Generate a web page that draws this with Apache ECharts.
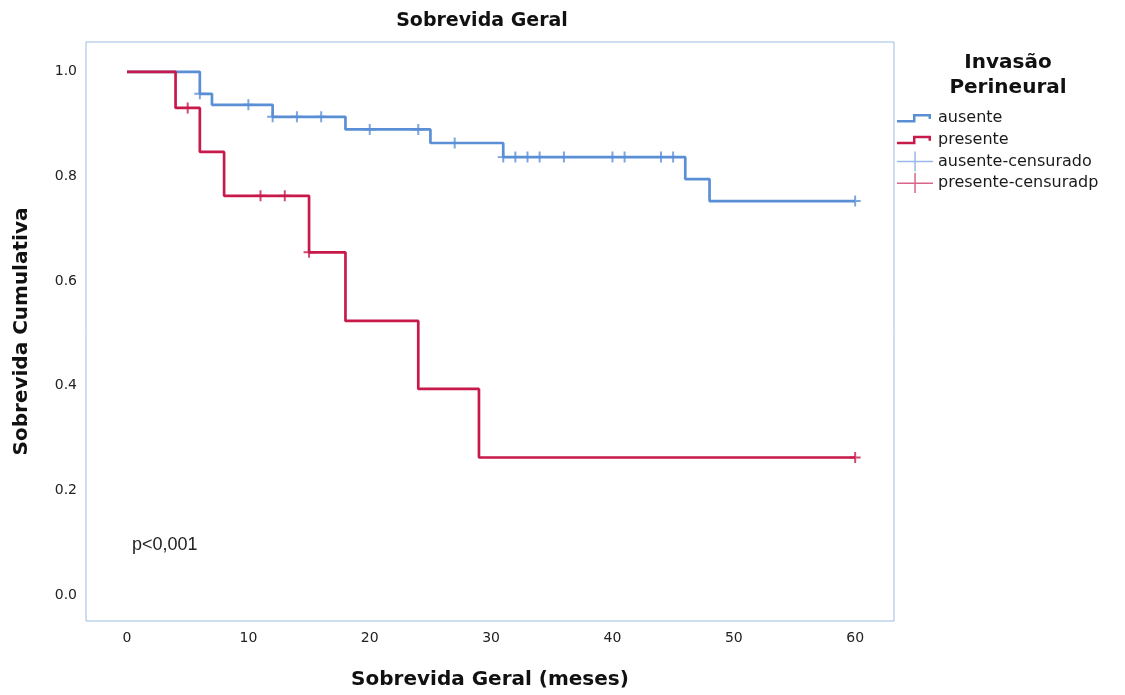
<!DOCTYPE html>
<html><head><meta charset="utf-8">
<script src="https://cdn.jsdelivr.net/npm/echarts@6/dist/echarts.min.js"></script>
<style>html,body{margin:0;padding:0;background:#fff}#c{width:1125px;height:695px}</style>
</head><body><div id="c"></div>
<script>
// ---- data ----
const xTicks = [0, 10, 20, 30, 40, 50, 60];
const yTicks = [0, 0.2, 0.4, 0.6, 0.8, 1.0];
const seriesNames = ['ausente', 'presente', 'ausente-censurado', 'presente-censuradp'];
const ausenteTimes = [0, 6, 7, 12, 18, 25, 31, 46, 48, 60];
const ausenteSurv  = [1, 0.958, 0.937, 0.914, 0.890, 0.864, 0.837, 0.795, 0.753, 0.753];
const ausenteCensorTimes = [6, 10, 12, 14, 16, 20, 24, 27, 31, 32, 33, 34, 36, 40, 41, 44, 45, 60];
const presenteTimes = [0, 4, 6, 8, 15, 18, 24, 29, 60];
const presenteSurv  = [1, 0.931, 0.847, 0.763, 0.655, 0.524, 0.394, 0.263, 0.263];
const presenteCensorTimes = [5, 11, 13, 15, 60];

const BLUE = '#5a8fd6', RED = '#c8194b';
function survAt(times, surv, t) {
  let v = surv[0];
  for (let i = 0; i < times.length; i++) if (times[i] <= t) v = surv[i];
  return v;
}
const zip = (a, b) => a.map((t, i) => [t, b[i]]);
const plus = 'path://M0,4.1 L10,4.1 L10,5.9 L0,5.9 Z M4.1,0 L5.9,0 L5.9,10 L4.1,10 Z';
const stepIcon = 'path://M0,0 L0.001,0 Z M36,20 L35.999,20 Z M0,12 L16,12 L16,6 L34,6 L34,11 L31.5,11 L31.5,8.5 L18.5,8.5 L18.5,14.5 L0,14.5 Z';
const crossIcon = 'path://M0,9.3 L36,9.3 L36,10.8 L0,10.8 Z M17.3,0 L18.8,0 L18.8,20 L17.3,20 Z';

const chart = echarts.init(document.getElementById('c'));
chart.setOption({
  animation: false,
  backgroundColor: '#fff',
  grid: { left: 86, right: 231, top: 42, bottom: 72, show: true, borderColor: '#9dbbe0', borderWidth: 1 },
  xAxis: {
    type: 'value', min: -3.38, max: 63.2,
    axisLine: { show: false }, axisTick: { show: false }, splitLine: { show: false },
    axisLabel: { customValues: xTicks, fontSize: 14, color: '#222', margin: 10, fontFamily: 'DejaVu Sans' },
    name: 'Sobrevida Geral (meses)', nameLocation: 'middle', nameGap: 49,
    nameTextStyle: { fontSize: 20, fontWeight: 'bold', color: '#111', fontFamily: 'DejaVu Sans' }
  },
  yAxis: {
    type: 'value', min: -0.0495, max: 1.057,
    axisLine: { show: false }, axisTick: { show: false }, splitLine: { show: false },
    axisLabel: { customValues: yTicks, fontSize: 14, color: '#222', margin: 9, fontFamily: 'DejaVu Sans',
      formatter: v => v.toFixed(1) },
    name: 'Sobrevida Cumulativa', nameLocation: 'middle', nameGap: 54,
    nameTextStyle: { fontSize: 20, fontWeight: 'bold', color: '#111', fontFamily: 'DejaVu Sans' }
  },
  legend: {
    orient: 'vertical', left: 897, top: 108, itemWidth: 36, itemHeight: 20, itemGap: 1.7,
    padding: 0,
    textStyle: { fontSize: 16, color: '#1a1a1a', fontFamily: 'DejaVu Sans', padding: [0, 0, 0, 0] },
    data: [
      { name: seriesNames[0], icon: stepIcon, itemStyle: { color: BLUE, borderWidth: 0 } },
      { name: seriesNames[1], icon: stepIcon, itemStyle: { color: RED, borderWidth: 0 } },
      { name: seriesNames[2], icon: crossIcon, itemStyle: { color: '#7ea8e2', borderWidth: 0 } },
      { name: seriesNames[3], icon: crossIcon, itemStyle: { color: '#d0406a', borderWidth: 0 } }
    ]
  },
  graphic: [
    { type: 'text', x: 482, y: 21, style: { text: 'Sobrevida Geral', align: 'center', verticalAlign: 'middle',
      font: 'bold 19px "DejaVu Sans"', fill: '#111' } },
    { type: 'text', x: 1008, y: 50, style: { text: 'Invasão\nPerineural', align: 'center', verticalAlign: 'top',
      font: 'bold 20px "DejaVu Sans"', lineHeight: 25, fill: '#111' } },
    { type: 'text', x: 132, y: 545, style: { text: 'p<0,001', align: 'left', verticalAlign: 'middle',
      font: '18px "Liberation Sans"', fill: '#222' } }
  ],
  series: [
    { name: seriesNames[0], type: 'line', step: 'end', symbol: 'none', z: 2,
      lineStyle: { color: BLUE, width: 2.7 }, itemStyle: { color: BLUE },
      data: zip(ausenteTimes, ausenteSurv) },
    { name: seriesNames[2], type: 'scatter', symbol: plus, symbolSize: 11, z: 3,
      itemStyle: { color: BLUE },
      data: ausenteCensorTimes.map(t => [t, survAt(ausenteTimes, ausenteSurv, t)]) },
    { name: seriesNames[1], type: 'line', step: 'end', symbol: 'none', z: 4,
      lineStyle: { color: RED, width: 2.7 }, itemStyle: { color: RED },
      data: zip(presenteTimes, presenteSurv) },
    { name: seriesNames[3], type: 'scatter', symbol: plus, symbolSize: 11, z: 5,
      itemStyle: { color: RED },
      data: presenteCensorTimes.map(t => [t, survAt(presenteTimes, presenteSurv, t)]) }
  ]
});
</script></body></html>
